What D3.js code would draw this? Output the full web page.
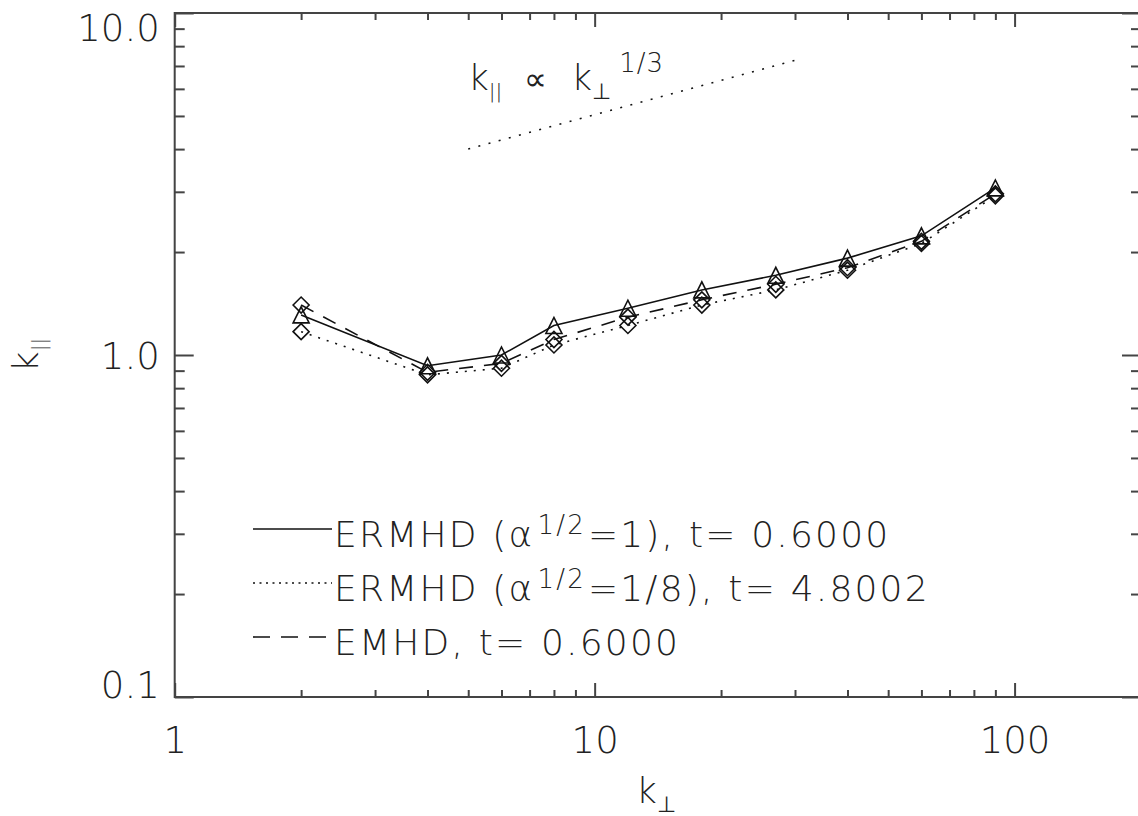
<!DOCTYPE html>
<html>
<head>
<meta charset="utf-8">
<script src="https://cdn.jsdelivr.net/npm/d3@7"></script>
<style>
  body { margin: 0; background: #fff; }
  svg text { font-family: "DejaVu Sans", sans-serif; font-weight: 200; fill: #222; }
</style>
</head>
<body>
<svg id="chart" width="1138" height="816"></svg>
<script>
// Perpendicular wavenumbers of the shells
const kPerp = [2, 4, 6, 8, 12, 18, 27, 40, 60, 90];
// Parallel wavenumber per run
const kParErmhdA1 = [1.31, 0.93, 1.00, 1.22, 1.37, 1.55, 1.71, 1.92, 2.23, 3.08];
const kParErmhdA8 = [1.17, 0.875, 0.915, 1.07, 1.22, 1.40, 1.55, 1.77, 2.12, 2.92];
const kParEmhd    = [1.40, 0.89, 0.945, 1.11, 1.29, 1.45, 1.61, 1.80, 2.15, 2.96];
// k_par ∝ k_perp^(1/3) guide line
const guideKPerp = [5, 30];
const guideKPar = [4.0, 7.27];
// Axis ticks
const xMajorTicks = [1, 10, 100];
const xMinorTicks = [2, 3, 4, 5, 6, 7, 8, 9, 20, 30, 40, 50, 60, 70, 80, 90];
const yMajorTicks = [0.1, 1, 10];
const yMinorTicks = [0.2, 0.3, 0.4, 0.5, 0.6, 0.7, 0.8, 0.9, 2, 3, 4, 5, 6, 7, 8, 9];
// Legend entries, top to bottom
const legendNames = [
  [{ t: "ERMHD (α" }, { t: "1/2", sup: true }, { t: "=1), t= 0.6000" }],
  [{ t: "ERMHD (α" }, { t: "1/2", sup: true }, { t: "=1/8), t= 4.8002" }],
  [{ t: "EMHD, t= 0.6000" }]
];

// Curves in drawing order; legendRow gives the row of each in the legend
const series = [
  { values: kParErmhdA8, dash: "2,7", legendDash: "2,4.5", marker: "diamond", legendRow: 1 },
  { values: kParEmhd, dash: "14,11", legendDash: "17,11", marker: "diamond", legendRow: 2 },
  { values: kParErmhdA1, dash: null, legendDash: null, marker: "triangle", legendRow: 0 }
];

const svg = d3.select("#chart");
const plot = { left: 174.7, right: 1141, top: 13, bottom: 697 };

const x = d3.scaleLog().domain([1, 200]).range([plot.left, plot.right]);
const y = d3.scaleLog().domain([0.1, 10]).range([plot.bottom, plot.top]);

const axisColor = "#444";

// Frame
svg.append("rect")
  .attr("x", plot.left).attr("y", plot.top)
  .attr("width", plot.right - plot.left).attr("height", plot.bottom - plot.top)
  .attr("fill", "none").attr("stroke", axisColor).attr("stroke-width", 2);

function styleAxis(g) {
  g.select(".domain").remove();
  g.selectAll(".tick line").attr("stroke", axisColor).attr("stroke-width", 2);
}

// X axes (bottom and top), ticks pointing inward
svg.append("g").attr("transform", `translate(0,${plot.bottom})`)
  .call(d3.axisBottom(x).tickValues(xMinorTicks).tickSize(-7).tickFormat(""))
  .call(styleAxis);
const xb = svg.append("g").attr("transform", `translate(0,${plot.bottom})`)
  .call(d3.axisBottom(x).tickValues(xMajorTicks).tickSize(-14).tickPadding(56).tickFormat(d3.format("d")))
  .call(styleAxis);
xb.selectAll(".tick text").attr("dy", 0).attr("font-size", 37).attr("font-family", null)
  .attr("fill", "#222");

svg.append("g").attr("transform", `translate(0,${plot.top})`)
  .call(d3.axisTop(x).tickValues(xMinorTicks).tickSize(-7).tickFormat(""))
  .call(styleAxis);
svg.append("g").attr("transform", `translate(0,${plot.top})`)
  .call(d3.axisTop(x).tickValues(xMajorTicks).tickSize(-14).tickFormat(""))
  .call(styleAxis);

// Y axes (left and right)
svg.append("g").attr("transform", `translate(${plot.left},0)`)
  .call(d3.axisLeft(y).tickValues(yMinorTicks).tickSize(-10).tickFormat(""))
  .call(styleAxis);
const yl = svg.append("g").attr("transform", `translate(${plot.left},0)`)
  .call(d3.axisLeft(y).tickValues(yMajorTicks).tickSize(-19).tickPadding(15).tickFormat(d3.format(".1f")))
  .call(styleAxis);
// keep the end labels inside the frame height
const capH = 27;
yl.selectAll(".tick text")
  .attr("font-size", 37).attr("font-family", null).attr("fill", "#222")
  .attr("dy", 0)
  .attr("y", d => {
    const base = y(d) + capH / 2;
    return Math.max(plot.top + capH, Math.min(plot.bottom, base)) - y(d);
  });

svg.append("g").attr("transform", `translate(${plot.right},0)`)
  .call(d3.axisRight(y).tickValues(yMinorTicks).tickSize(-10).tickFormat(""))
  .call(styleAxis);
svg.append("g").attr("transform", `translate(${plot.right},0)`)
  .call(d3.axisRight(y).tickValues(yMajorTicks).tickSize(-19).tickFormat(""))
  .call(styleAxis);

// Axis titles
const xt = svg.append("text").attr("x", (plot.left + plot.right) / 2 - 2).attr("y", 803)
  .attr("text-anchor", "middle").attr("font-size", 36);
xt.append("tspan").text("k");
xt.append("tspan").attr("font-size", 22).attr("dy", 9).text("⊥");

const yt = svg.append("text")
  .attr("transform", `translate(38,${(plot.top + plot.bottom) / 2}) rotate(-90)`)
  .attr("text-anchor", "middle").attr("font-size", 36);
yt.append("tspan").text("k");
yt.append("tspan").attr("font-size", 20).attr("dy", 8).text("||");

// Guide line and its label
const line = d3.line().x(d => x(d[0])).y(d => y(d[1]));
svg.append("path")
  .attr("d", line(d3.zip(guideKPerp, guideKPar)))
  .attr("fill", "none").attr("stroke", "#111").attr("stroke-width", 1.6)
  .attr("stroke-dasharray", "2,8.5");

const gl = svg.append("text").attr("x", 468).attr("y", 90).attr("font-size", 36);
gl.append("tspan").text("k");
gl.append("tspan").attr("font-size", 20).attr("dy", 8).text("||");
gl.append("tspan").attr("dy", -8).attr("dx", 22).attr("font-size", 32).text("∝");
gl.append("tspan").attr("dx", 24).text("k");
gl.append("tspan").attr("font-size", 22).attr("dy", 9).text("⊥");
gl.append("tspan").attr("font-size", 26).attr("dy", -27).attr("dx", 8).attr("letter-spacing", 1).text("1/3");

// Data curves
function markerPath(kind, cx, cy) {
  const r = 8;
  const p = d3.path();
  if (kind === "triangle") {
    p.moveTo(cx - r, cy + r); p.lineTo(cx, cy - r); p.lineTo(cx + r, cy + r); p.closePath();
  } else {
    p.moveTo(cx - r, cy); p.lineTo(cx, cy - r); p.lineTo(cx + r, cy); p.lineTo(cx, cy + r); p.closePath();
  }
  return p.toString();
}

series.forEach(s => {
  const pts = d3.zip(kPerp, s.values);
  svg.append("path")
    .attr("d", line(pts))
    .attr("fill", "none").attr("stroke", "#111").attr("stroke-width", 1.6)
    .attr("stroke-dasharray", s.dash);
  svg.append("g").selectAll("path").data(pts).join("path")
    .attr("d", d => markerPath(s.marker, x(d[0]), y(d[1])))
    .attr("fill", "none").attr("stroke", "#111").attr("stroke-width", 1.6);
});

// Legend
const legendX0 = 253, legendX1 = 332, legendTextX = 334;
const legendBase = [547, 601, 655];
series.forEach(s => {
  const i = s.legendRow;
  svg.append("line")
    .attr("x1", legendX0).attr("x2", legendX1)
    .attr("y1", legendBase[i] - 18).attr("y2", legendBase[i] - 18)
    .attr("stroke", "#111").attr("stroke-width", 1.6)
    .attr("stroke-dasharray", s.legendDash);
  const t = svg.append("text").attr("x", legendTextX).attr("y", legendBase[i])
    .attr("font-size", 36).attr("letter-spacing", 2.2);
  let up = false;
  legendNames[i].forEach(part => {
    const ts = t.append("tspan").text(part.t);
    if (part.sup) { ts.attr("font-size", 26).attr("dy", -13).attr("dx", 3); up = true; }
    else if (up) { ts.attr("dy", 13).attr("dx", 2); up = false; }
  });
});
</script>
</body>
</html>
